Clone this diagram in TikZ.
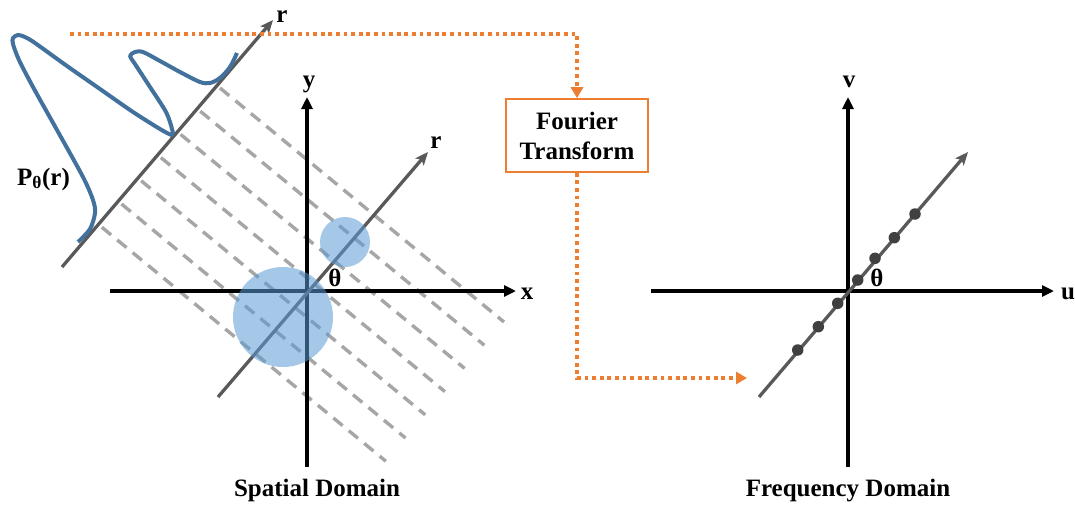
\documentclass[tikz,border=0pt]{standalone}
\usepackage{fontspec}
\setmainfont{Liberation Serif}
\usetikzlibrary{arrows.meta}
\definecolor{axisgrey}{RGB}{89,89,89}
\definecolor{projblue}{RGB}{65,113,156}
\definecolor{objblue}{RGB}{91,155,213}
\definecolor{ftorange}{RGB}{237,125,49}
\definecolor{raygrey}{RGB}{166,166,166}
\definecolor{dotgrey}{RGB}{64,64,64}
\begin{document}
\begin{tikzpicture}[x=1pt,y=-1pt,
  lbl/.style={font=\bfseries\fontsize{25}{30}\selectfont, inner sep=0pt, anchor=base},
  axisline/.style={line width=3.6pt, black, -{Triangle[length=12pt,width=11pt]}},
  rline/.style={line width=3.3pt, axisgrey, -{Stealth[length=13pt,width=11pt,inset=3pt]}},
  ray/.style={line width=3.4pt, raygrey, dash pattern=on 12pt off 8pt},
  flow/.style={line width=3.8pt, ftorange, dash pattern=on 3.8pt off 3.8pt},
  flowtip/.style={flow, -{Triangle[length=11pt,width=12pt]}},
  object/.style={fill=objblue, fill opacity=0.55, draw=none},
  sample/.style={circle, fill=dotgrey, inner sep=0pt, minimum size=11.5pt},
  ftbox/.style={draw=ftorange, line width=1.6pt, fill=white, minimum width=142pt,
                minimum height=73pt, align=center, inner sep=0pt,
                font=\bfseries\fontsize{25}{30}\selectfont}]
\useasboundingbox (0,0) rectangle (1075,504);

% parallel rays through the object
\foreach \k in {0,...,6}
  \draw[ray] ({220-19.7*\k},{88+23.2*\k}) -- ++(284,234);

% spatial domain axes
\coordinate (xs) at (110,291);
\coordinate (xe) at (516,291);
\coordinate (ys) at (307,467);
\coordinate (ye) at (307,97);
\coordinate (rs) at (218,397);
\coordinate (re) at (428,152);
\draw[axisline] (xs) -- (xe);
\draw[axisline] (ys) -- (ye);
\draw[rline] (rs) -- (re);

% objects
\fill[object] (283,317) circle (50);
\fill[object] (345,242) circle (25);

% projection axis and projection profile
\coordinate (ps) at (62,267);
\coordinate (pe) at (273,20);
\draw[rline] (ps) -- (pe);
\draw[projblue, line width=4pt, line cap=butt, line join=round]
  plot[smooth, tension=0.5] coordinates {
    (78,242) (90,229) (95,213) (93,200) (83,177) (57,130) (33,87) (19,60)
    (13,44) (13,38) (18,35) (25,37) (35,43) (67,66) (100,89) (133,112) (160,129)
    (172,135) (172,129) (166,112) (150,87) (135,64) (130,56) (135,52)
    (143,52) (160,61) (180,72) (200,82) (210,83) (220,78) (230,67) (237,53)};

% frequency domain axes
\coordinate (us) at (651,291);
\coordinate (ue) at (1054,291);
\coordinate (vs) at (848,467);
\coordinate (ve) at (848,97);
\coordinate (ks) at (759,397);
\coordinate (ke) at (968,152);
\draw[axisline] (us) -- (ue);
\draw[axisline] (vs) -- (ve);
\draw[rline] (ks) -- (ke);
\foreach \n/\p in {1/{(797.7,350)},2/{(818.3,326.7)},3/{(837.7,303.3)},
                   4/{(857.7,280)},5/{(875,258.3)},6/{(894.3,237.7)},7/{(915,214)}}
  \node[sample] (s\n) at \p {};

% labels
\node[lbl] (lx) at (527,299) {x};
\node[lbl] (ly) at (309,87) {y};
\node[lbl] (lr) at (436,148) {r};
\node[lbl] (lpr) at (282,22) {r};
\node[lbl] (lth) at (335,286) {θ};
\node[lbl, anchor=base west] (lp) at (17,185) {P\textsubscript{θ}(r)};
\node[lbl] (lu) at (1068,299) {u};
\node[lbl] (lv) at (849,87) {v};
\node[lbl] (lk) at (877,286) {θ};
\node[lbl] (sd) at (317,496) {Spatial Domain};
\node[lbl] (fd) at (848,496) {Frequency Domain};

% Fourier transform step
\node[ftbox] (ft) at (577,135.5) {Fourier\\Transform};
\coordinate (f0) at (70,34);
\coordinate (f1) at (577,34);
\coordinate (f2) at (577,378);
\coordinate (f3) at (747,378);
\draw[flowtip] (f0) -- (f1) -- (ft.north);
\draw[flowtip] (ft.south) -- (f2) -- (f3);
\end{tikzpicture}
\end{document}
